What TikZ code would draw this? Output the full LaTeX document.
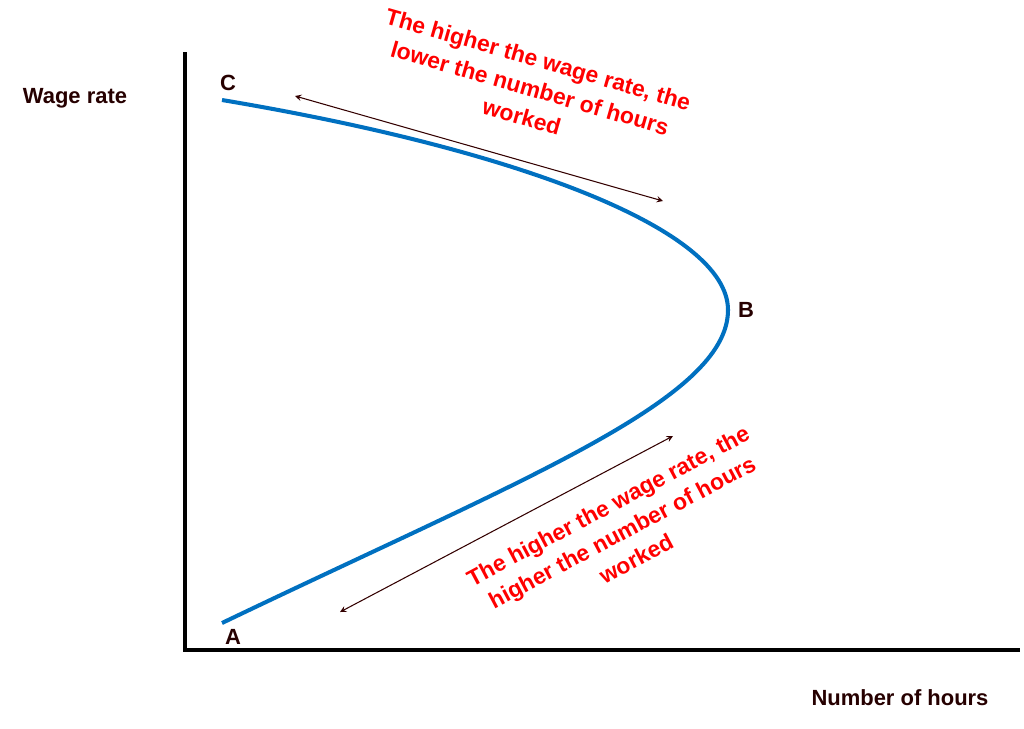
\documentclass[tikz,border=0pt]{standalone}
\usepackage{fontspec}
\setmainfont{Liberation Sans}
\usetikzlibrary{positioning}
\tikzset{
  axislabel/.style={font=\bfseries\fontsize{12.5}{14}\selectfont, text=black!85!red},
  note/.style={font=\bfseries\fontsize{13}{17}\selectfont, text=red, align=center},
  dir/.style={<->, >=stealth, semithick, black!80!red}
}
\begin{document}
\begin{tikzpicture}[x=0.02cm, y=-0.02cm]
        \useasboundingbox (0,0) rectangle (1024,728);

        \coordinate (origin) at (185,650);
        \coordinate (ytop)   at (185,52);
        \coordinate (xend)   at (1020,650);
        \draw[line width=1.8pt] (ytop) -- (origin) -- (xend);

        \node[axislabel] (wage)  at (75,98)  {Wage rate};
        \node[axislabel] (hours) at (900,698) {Number of hours};

        \coordinate (c) at (222,100);
        \coordinate (b) at (728,310);
        \coordinate (a) at (222,623);
        \draw[line width=2.3pt, color={rgb,255:red,0;green,112;blue,192}]
            (c) .. controls (520,150) and (728,230) .. (b)
                .. controls (728,400) and (520,480) .. (a);

        \node[axislabel] (lc) at (228,83)  {C};
        \node[axislabel] (lb) at (746,310) {B};
        \node[axislabel] (la) at (233,637) {A};

        \coordinate (u1) at (295,96);
        \coordinate (u2) at (663,201);
        \coordinate (d1) at (340,612);
        \coordinate (d2) at (673,436);
        \draw[dir] (u1) -- (u2);
        \draw[dir] (d1) -- (d2);

        \node[note, rotate=-16] (upper) at (530,88)
            {The higher the wage rate, the\\lower the number of hours\\worked};
        \node[note, rotate=28] (lower) at (622,532)
            {The higher the wage rate, the\\higher the number of hours\\worked};
\end{tikzpicture}
\end{document}
